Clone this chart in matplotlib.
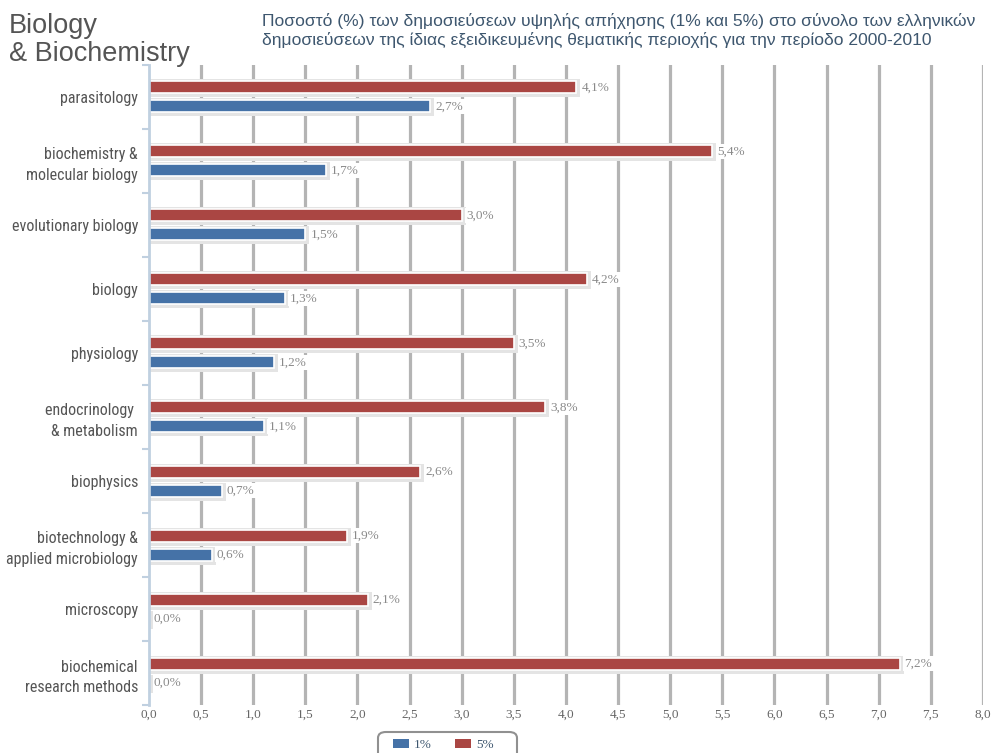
import matplotlib
matplotlib.use('Agg')
import matplotlib.pyplot as plt
from matplotlib.patches import Patch, FancyBboxPatch

categories = ['parasitology', 'biochemistry &\nmolecular biology', 'evolutionary biology',
              'biology', 'physiology', 'endocrinology \n& metabolism', 'biophysics',
              'biotechnology &\napplied microbiology', 'microscopy',
              'biochemical\nresearch methods']
top5 = [4.1, 5.4, 3.0, 4.2, 3.5, 3.8, 2.6, 1.9, 2.1, 7.2]
top1 = [2.7, 1.7, 1.5, 1.3, 1.2, 1.1, 0.7, 0.6, 0.0, 0.0]
series_names = ['1%', '5%']
xticks = [0.0, 0.5, 1.0, 1.5, 2.0, 2.5, 3.0, 3.5, 4.0, 4.5, 5.0, 5.5, 6.0, 6.5, 7.0, 7.5, 8.0]
xticklabels = ['0,0', '0,5', '1,0', '1,5', '2,0', '2,5', '3,0', '3,5', '4,0', '4,5',
               '5,0', '5,5', '6,0', '6,5', '7,0', '7,5', '8,0']
title = 'Biology\n& Biochemistry'
subtitle = ('Ποσοστό (%) των δημοσιεύσεων υψηλής απήχησης (1% και 5%) στο σύνολο των ελληνικών\n'
            'δημοσιεύσεων της ίδιας εξειδικευμένης θεματικής περιοχής για την περίοδο 2000-2010')

BLUE = '#4572A7'
RED = '#AA4643'
W, H = 995, 753

fig = plt.figure(figsize=(W / 100, H / 100), dpi=100)
fig.patch.set_facecolor('white')
ax = fig.add_axes([149 / W, 1 - 705 / H, (983 - 149) / W, (705 - 65) / H])

pxx = 8.0 / (983 - 149)   # data units per pixel in x
pxy = 10.0 / 640          # data units per pixel in y

ax.set_xlim(0, 8)
ax.set_ylim(10, 0)

for x in xticks[1:]:
    ax.axvline(x, color='#b4b4b4', lw=2.3, zorder=1)

n = len(categories)
centers = [i + 0.5 for i in range(n)]
bh = 12 * pxy
off = 9.5 * pxy

serif = ['Liberation Serif', 'DejaVu Serif']

def draw_series(vals, color, dy):
    ys = [c + dy for c in centers]
    # shadow
    ax.barh([y + 1 * pxy for y in ys], [v + 4 * pxx for v in vals], height=bh + 6 * pxy,
            left=0, color='#e4e4e4', zorder=2, linewidth=0)
    ax.barh(ys, vals, height=bh, left=0, color=color, edgecolor='white',
            linewidth=1.2, zorder=3)
    for y, v in zip(ys, vals):
        ax.annotate(f'{v:.1f}%'.replace('.', ','), (v, y), xytext=(5, 0),
                    textcoords='offset pixels', ha='left', va='center',
                    fontsize=9.5, family=serif, color='#8a8a8a', zorder=4,
                    bbox=dict(boxstyle='square,pad=0.1', fc='white', ec='none'))

draw_series(top5, RED, -off)
draw_series(top1, BLUE, off)

for s in ['top', 'right', 'bottom']:
    ax.spines[s].set_visible(False)
ax.spines['left'].set_color('#C0D0E0')
ax.spines['left'].set_linewidth(2)
ax.spines['left'].set_zorder(5)

ax.set_yticks(centers)
ax.set_yticklabels(categories, fontsize=11.5, color='#555555',
                   family=['Liberation Sans Narrow', 'Roboto Condensed', 'Roboto'],
                   linespacing=1.45)
ax.set_yticks([i for i in range(n + 1)], minor=True)
ax.tick_params(axis='y', which='major', length=0, pad=8)
ax.tick_params(axis='y', which='minor', length=5, width=1.5, color='#C0D0E0', direction='out')

ax.set_xticks(xticks)
ax.set_xticklabels(xticklabels, fontsize=9.5, color='#666666', family=serif)
ax.tick_params(axis='x', length=0, pad=3)

fig.text(9 / W, 1 - 13 / H, title, fontsize=19.5, color='#555555', va='top', ha='left',
         family=['Liberation Sans', 'DejaVu Sans'], linespacing=1.1)
fig.text(262 / W, 1 - 13 / H, subtitle, fontsize=12.6, color='#3E576F', va='top', ha='left',
         family=['Liberation Sans', 'DejaVu Sans'], linespacing=1.25)

# legend frame (rounded, cut off by the bottom edge like the reference)
frame = FancyBboxPatch((378 / W, 1 - 765 / H), 139 / W, 33 / H,
                       boxstyle='round,pad=0,rounding_size=0.008',
                       transform=fig.transFigure, fc='white', ec='#909090', lw=1.5,
                       zorder=5)
fig.patches.append(frame)

handles = [Patch(facecolor=BLUE, edgecolor='none'), Patch(facecolor=RED, edgecolor='none')]
leg = fig.legend(handles, series_names, loc='center left', ncol=2,
                 bbox_to_anchor=(393 / W, 1 - 745 / H), frameon=False,
                 prop={'family': serif, 'size': 9.5},
                 labelcolor='#3E576F', handlelength=1.2, handleheight=0.75,
                 columnspacing=1.75, borderpad=0.0, handletextpad=0.4, borderaxespad=0)
leg.set_zorder(6)

fig.savefig('out.png', dpi=100)
